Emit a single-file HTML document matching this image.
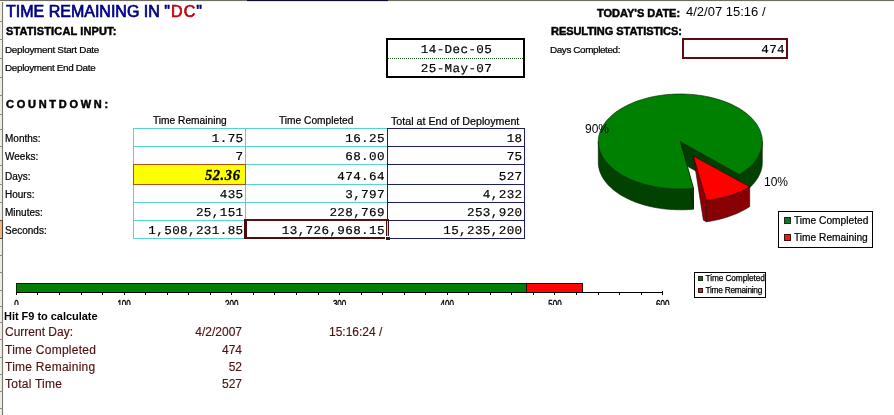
<!DOCTYPE html>
<html><head><meta charset="utf-8"><title>Time Remaining</title>
<style>
html,body{margin:0;padding:0;background:#fff;}
body{width:894px;height:415px;position:relative;overflow:hidden;font-family:"Liberation Sans",sans-serif;color:#000;}
.t{position:absolute;white-space:nowrap;line-height:1;margin:0;padding:0;}
.m{font-family:"Liberation Mono",monospace;font-size:12px;letter-spacing:0.35px;text-align:right;text-rendering:geometricPrecision;-webkit-text-stroke:0.18px #000;transform:scaleX(1.05);transform-origin:100% 50%;}
.sm{-webkit-text-stroke:0.22px #000;}
.blk{font-weight:bold;font-size:10.2px;-webkit-text-stroke:0.45px #000;}
.b{position:absolute;box-sizing:border-box;}
.mar{color:#4e1010;font-size:12px;-webkit-text-stroke:0.15px #4e1010;}
.ax{font-size:8px;color:#000;}
</style></head><body>
<div id="page" style="position:absolute;left:0;top:0;width:894px;height:415px;will-change:transform;">
<div class="b" style="left:0px;top:0px;width:2px;height:415px;background:#eeebe3;"></div>
<div class="b" style="left:2px;top:0px;width:1px;height:415px;background:#77756f;"></div>
<div class="b" style="left:3px;top:0px;width:1px;height:415px;background:#f8f8f5;"></div>
<div class="b" style="left:0px;top:221px;width:2px;height:17px;background:#f4b47e;"></div>
<div class="b" style="left:2px;top:220px;width:1px;height:19px;background:#44423e;"></div>
<div class="b" style="left:0px;top:21px;width:3px;height:1px;background:#8a8a84;"></div>
<div class="b" style="left:0px;top:39px;width:3px;height:1px;background:#8a8a84;"></div>
<div class="b" style="left:0px;top:58px;width:3px;height:1px;background:#8a8a84;"></div>
<div class="b" style="left:0px;top:77px;width:3px;height:1px;background:#8a8a84;"></div>
<div class="b" style="left:0px;top:95px;width:3px;height:1px;background:#8a8a84;"></div>
<div class="b" style="left:0px;top:114px;width:3px;height:1px;background:#8a8a84;"></div>
<div class="b" style="left:0px;top:129px;width:3px;height:1px;background:#8a8a84;"></div>
<div class="b" style="left:0px;top:146px;width:3px;height:1px;background:#8a8a84;"></div>
<div class="b" style="left:0px;top:165px;width:3px;height:1px;background:#8a8a84;"></div>
<div class="b" style="left:0px;top:184px;width:3px;height:1px;background:#8a8a84;"></div>
<div class="b" style="left:0px;top:202px;width:3px;height:1px;background:#8a8a84;"></div>
<div class="b" style="left:0px;top:220px;width:3px;height:1px;background:#4a4844;"></div>
<div class="b" style="left:0px;top:238px;width:3px;height:1px;background:#4a4844;"></div>
<div class="b" style="left:0px;top:255px;width:3px;height:1px;background:#8a8a84;"></div>
<div class="b" style="left:0px;top:272px;width:3px;height:1px;background:#8a8a84;"></div>
<div class="b" style="left:0px;top:290px;width:3px;height:1px;background:#8a8a84;"></div>
<div class="b" style="left:0px;top:306px;width:3px;height:1px;background:#8a8a84;"></div>
<div class="b" style="left:0px;top:322px;width:3px;height:1px;background:#8a8a84;"></div>
<div class="b" style="left:0px;top:339px;width:3px;height:1px;background:#8a8a84;"></div>
<div class="b" style="left:0px;top:357px;width:3px;height:1px;background:#8a8a84;"></div>
<div class="b" style="left:0px;top:374px;width:3px;height:1px;background:#8a8a84;"></div>
<div class="b" style="left:0px;top:391px;width:3px;height:1px;background:#8a8a84;"></div>
<div class="b" style="left:0px;top:408px;width:3px;height:1px;background:#8a8a84;"></div>
<div class="b" style="left:0px;top:0px;width:894px;height:1px;background:#6e6e64;"></div>
<div class="b" style="left:0px;top:1px;width:894px;height:1px;background:#f4f4f0;"></div>
<div class="b" style="left:247px;top:0px;width:141px;height:1px;background:#0a0a34;"></div>
<div class="b" style="left:247px;top:1px;width:141px;height:1px;background:#e0e0ee;"></div>
<div class="t " id="title" style="left:6px;top:3.6px;font-size:16px;-webkit-text-stroke:0.7px currentColor;color:#000086;">TIME REMAINING IN <span style="letter-spacing:1.1px">"<span style="color:#c00010">DC</span>"</span></div>
<div class="t blk" id="si" style="left:6px;top:27.3px;letter-spacing:0.12px;transform:scaleX(1.08);transform-origin:0 0;">STATISTICAL INPUT:</div>
<div class="t sm" id="dsd" style="left:5px;top:44.8px;font-size:9.9px;letter-spacing:-0.28px;">Deployment Start Date</div>
<div class="t sm" id="ded" style="left:5px;top:63.3px;font-size:9.9px;letter-spacing:-0.33px;">Deployment End Date</div>
<div class="t blk" id="cd" style="left:6px;top:100.3px;letter-spacing:-0.15px;transform:scaleX(1.08);transform-origin:0 0;">C O U N T D O W N :</div>
<div class="b" style="left:386px;top:38px;width:139px;height:40px;border:2px solid #000;"></div>
<div class="b" style="left:388px;top:58px;width:135px;height:0px;border-top:1px dotted #1e5a1e;"></div>
<div class="t m" id="d1" style="left:388.5px;top:43.7px;width:135px;text-align:center;transform-origin:50% 50%;">14-Dec-05</div>
<div class="t m" id="d2" style="left:388.5px;top:62.7px;width:135px;text-align:center;transform-origin:50% 50%;">25-May-07</div>
<div class="t blk" id="td" style="left:597px;top:9.3px;letter-spacing:0px;transform:scaleX(1.08);transform-origin:0 0;">TODAY'S DATE:</div>
<div class="t " id="tdv" style="left:686px;top:5.4px;font-size:13px;">4/2/07 15:16 /</div>
<div class="t blk" id="rs" style="left:551px;top:27.3px;letter-spacing:-0.05px;transform:scaleX(1.08);transform-origin:0 0;">RESULTING STATISTICS:</div>
<div class="t sm" id="dc" style="left:550px;top:44.8px;font-size:9.9px;letter-spacing:-0.38px;">Days Completed:</div>
<div class="b" style="left:682px;top:38px;width:106px;height:21px;border:2px solid #600a0e;"></div>
<div class="t m" id="v474" style="left:684px;top:43.8px;width:101px;">474</div>
<div class="t sm" id="rl0" style="left:5px;top:133.8px;font-size:10px;">Months:</div>
<div class="t sm" id="rl1" style="left:5px;top:151.8px;font-size:10px;">Weeks:</div>
<div class="t sm" id="rl2" style="left:5px;top:171.8px;font-size:10px;">Days:</div>
<div class="t sm" id="rl3" style="left:5px;top:189.8px;font-size:10px;">Hours:</div>
<div class="t sm" id="rl4" style="left:5px;top:207.8px;font-size:10px;">Minutes:</div>
<div class="t sm" id="rl5" style="left:5px;top:225.8px;font-size:10px;">Seconds:</div>
<div class="t sm" id="h1" style="left:153px;top:116.1px;font-size:10.2px;">Time Remaining</div>
<div class="t sm" id="h2" style="left:279px;top:116.2px;font-size:10.2px;">Time Completed</div>
<div class="t sm" id="h3" style="left:391px;top:115.8px;font-size:10.7px;">Total at End of Deployment</div>
<div class="b" style="left:133px;top:128px;width:254px;height:1px;background:#58d0d6;"></div>
<div class="b" style="left:133px;top:146px;width:254px;height:1px;background:#58d0d6;"></div>
<div class="b" style="left:133px;top:164px;width:254px;height:1px;background:#58d0d6;"></div>
<div class="b" style="left:133px;top:184px;width:254px;height:1px;background:#58d0d6;"></div>
<div class="b" style="left:133px;top:202px;width:254px;height:1px;background:#58d0d6;"></div>
<div class="b" style="left:133px;top:220px;width:254px;height:1px;background:#58d0d6;"></div>
<div class="b" style="left:133px;top:238px;width:254px;height:1px;background:#58d0d6;"></div>
<div class="b" style="left:133px;top:128px;width:1px;height:111px;background:#58d0d6;"></div>
<div class="b" style="left:245px;top:128px;width:1px;height:111px;background:#58d0d6;"></div>
<div class="b" style="left:387px;top:128px;width:138px;height:1px;background:#1c1c68;"></div>
<div class="b" style="left:387px;top:146px;width:138px;height:1px;background:#1c1c68;"></div>
<div class="b" style="left:387px;top:164px;width:138px;height:1px;background:#1c1c68;"></div>
<div class="b" style="left:387px;top:184px;width:138px;height:1px;background:#1c1c68;"></div>
<div class="b" style="left:387px;top:202px;width:138px;height:1px;background:#1c1c68;"></div>
<div class="b" style="left:387px;top:220px;width:138px;height:1px;background:#1c1c68;"></div>
<div class="b" style="left:387px;top:238px;width:138px;height:1px;background:#1c1c68;"></div>
<div class="b" style="left:387px;top:128px;width:1px;height:111px;background:#1c1c68;"></div>
<div class="b" style="left:524px;top:128px;width:1px;height:111px;background:#1c1c68;"></div>
<div class="b" style="left:133px;top:164px;width:113px;height:21px;background:#feff00;border:1px solid #b4500a;"></div>
<div class="b" style="left:244px;top:219px;width:145px;height:20px;border:3px solid #4a0c0c;border-top:2px solid #5c1010;border-bottom-width:2px;"></div>
<div class="b" style="left:387px;top:221px;width:1px;height:16px;background:#d8d070;"></div>
<div class="b" style="left:385px;top:236px;width:5px;height:4px;background:#22220c;border-left:1px solid #fff;border-top:1px solid #fff;"></div>
<div class="t m" id="a0" style="left:133px;top:133.3px;width:110.5px;">1.75</div>
<div class="t m" id="b0" style="left:245px;top:133.3px;width:139.9px;">16.25</div>
<div class="t m" id="c0" style="left:387px;top:133.3px;width:135.5px;">18</div>
<div class="t m" id="a1" style="left:133px;top:151.3px;width:110.5px;">7</div>
<div class="t m" id="b1" style="left:245px;top:151.3px;width:139.9px;">68.00</div>
<div class="t m" id="c1" style="left:387px;top:151.3px;width:135.5px;">75</div>
<div class="t m" id="b2" style="left:245px;top:171.3px;width:139.9px;">474.64</div>
<div class="t m" id="c2" style="left:387px;top:171.3px;width:135.5px;">527</div>
<div class="t m" id="a3" style="left:133px;top:189.3px;width:110.5px;">435</div>
<div class="t m" id="b3" style="left:245px;top:189.3px;width:139.9px;">3,797</div>
<div class="t m" id="c3" style="left:387px;top:189.3px;width:135.5px;">4,232</div>
<div class="t m" id="a4" style="left:133px;top:207.3px;width:110.5px;">25,151</div>
<div class="t m" id="b4" style="left:245px;top:207.3px;width:139.9px;">228,769</div>
<div class="t m" id="c4" style="left:387px;top:207.3px;width:135.5px;">253,920</div>
<div class="t m" id="a5" style="left:133px;top:225.3px;width:110.5px;">1,508,231.85</div>
<div class="t m" id="b5" style="left:245px;top:225.3px;width:139.9px;">13,726,968.15</div>
<div class="t m" id="c5" style="left:387px;top:225.3px;width:135.5px;">15,235,200</div>
<div class="t " id="y52" style="left:132.5px;top:167px;width:108px;text-align:right;font:italic bold 14.5px 'Liberation Serif',serif;letter-spacing:0.6px;-webkit-text-stroke:0.3px #000;">52.36</div>
<svg style="position:absolute;left:560px;top:80px;" width="334" height="180" viewBox="560 80 334 180">
<polygon points="693.5,188.4 690.0,188.7 686.4,188.9 682.9,189.0 679.3,189.0 675.8,188.9 672.2,188.8 668.7,188.5 665.2,188.2 661.7,187.8 658.3,187.3 654.9,186.7 651.5,186.0 648.2,185.2 645.0,184.4 641.8,183.4 638.7,182.4 635.7,181.4 632.8,180.2 629.9,179.0 627.2,177.7 624.5,176.3 622.0,174.9 619.5,173.4 617.2,171.8 615.0,170.2 612.9,168.6 611.0,166.8 609.1,165.1 607.4,163.3 605.9,161.4 604.4,159.5 603.2,157.6 602.0,155.7 601.1,153.7 600.2,151.7 599.5,149.7 599.0,147.7 598.6,145.6 598.4,143.6 598.3,141.5 598.3,162.3 598.4,164.4 598.6,166.4 599.0,168.5 599.5,170.5 600.2,172.5 601.1,174.5 602.0,176.5 603.2,178.4 604.4,180.3 605.9,182.2 607.4,184.1 609.1,185.9 611.0,187.6 612.9,189.4 615.0,191.0 617.2,192.6 619.5,194.2 622.0,195.7 624.5,197.1 627.2,198.5 629.9,199.8 632.8,201.0 635.7,202.2 638.7,203.2 641.8,204.2 645.0,205.2 648.2,206.0 651.5,206.8 654.9,207.5 658.3,208.1 661.7,208.6 665.2,209.0 668.7,209.3 672.2,209.6 675.8,209.7 679.3,209.8 682.9,209.8 686.4,209.7 690.0,209.5 693.5,209.2" fill="#014201" stroke="#021c02" stroke-width="0.6"/>
<polygon points="762.3,141.5 762.3,142.4 762.2,143.3 762.2,144.2 762.1,145.2 761.9,146.1 761.8,147.0 761.6,147.9 761.3,148.8 761.1,149.7 760.8,150.6 760.5,151.5 760.1,152.4 759.7,153.3 759.3,154.1 758.9,155.0 758.4,155.9 758.0,156.8 757.4,157.6 756.9,158.5 756.3,159.3 755.7,160.2 755.1,161.0 754.4,161.8 753.7,162.7 753.0,163.5 752.3,164.3 751.5,165.1 750.7,165.9 749.9,166.6 749.0,167.4 748.1,168.2 747.2,168.9 746.3,169.7 745.4,170.4 744.4,171.1 743.4,171.8 742.4,172.5 741.3,173.2 740.3,173.9 739.2,174.5 739.2,195.3 740.3,194.7 741.3,194.0 742.4,193.3 743.4,192.6 744.4,191.9 745.4,191.2 746.3,190.5 747.2,189.7 748.1,189.0 749.0,188.2 749.9,187.4 750.7,186.7 751.5,185.9 752.3,185.1 753.0,184.3 753.7,183.5 754.4,182.6 755.1,181.8 755.7,181.0 756.3,180.1 756.9,179.3 757.4,178.4 758.0,177.6 758.4,176.7 758.9,175.8 759.3,174.9 759.7,174.1 760.1,173.2 760.5,172.3 760.8,171.4 761.1,170.5 761.3,169.6 761.6,168.7 761.8,167.8 761.9,166.9 762.1,166.0 762.2,165.0 762.2,164.1 762.3,163.2 762.3,162.3" fill="#014201" stroke="#021c02" stroke-width="0.6"/>
<polygon points="680.3,141.5 739.2,174.5 739.2,195.3 680.3,162.3" fill="#013c01" stroke="#021c02" stroke-width="0.6"/>
<polygon points="680.3,141.5 693.5,188.4 693.5,209.2 683.3,147.5" fill="#013c01" stroke="#021c02" stroke-width="0.6"/>
<polygon points="680.3,141.5 693.5,188.4 689.6,188.7 685.8,188.9 682.0,189.0 678.1,189.0 674.2,188.9 670.4,188.7 666.6,188.3 662.8,187.9 659.1,187.4 655.4,186.8 651.7,186.0 648.1,185.2 644.6,184.3 641.2,183.3 637.9,182.1 634.6,180.9 631.5,179.7 628.4,178.3 625.5,176.8 622.7,175.3 620.0,173.7 617.5,172.0 615.0,170.3 612.8,168.5 610.7,166.6 608.7,164.7 606.9,162.7 605.3,160.7 603.8,158.6 602.5,156.5 601.4,154.4 600.4,152.2 599.6,150.0 599.0,147.8 598.6,145.6 598.4,143.4 598.3,141.1 598.4,138.9 598.7,136.7 599.2,134.4 599.9,132.2 600.7,130.1 601.7,127.9 602.9,125.8 604.3,123.7 605.8,121.6 607.5,119.6 609.4,117.7 611.4,115.8 613.5,113.9 615.8,112.1 618.3,110.4 620.9,108.8 623.6,107.2 626.5,105.7 629.4,104.3 632.5,102.9 635.7,101.6 639.0,100.5 642.3,99.4 645.8,98.4 649.3,97.5 652.9,96.7 656.6,96.0 660.3,95.4 664.1,94.9 667.9,94.5 671.7,94.3 675.5,94.1 679.4,94.0 683.3,94.0 687.1,94.2 690.9,94.4 694.7,94.7 698.5,95.2 702.3,95.7 706.0,96.4 709.6,97.1 713.2,98.0 716.6,98.9 720.1,100.0 723.4,101.1 726.6,102.3 729.8,103.6 732.8,105.0 735.7,106.5 738.5,108.0 741.1,109.6 743.6,111.3 746.0,113.1 748.2,114.9 750.3,116.8 752.3,118.7 754.0,120.7 755.6,122.7 757.1,124.8 758.3,126.9 759.4,129.1 760.4,131.2 761.1,133.4 761.7,135.6 762.1,137.8 762.3,140.1 762.3,142.3 762.1,144.5 761.8,146.8 761.3,149.0 760.6,151.2 759.7,153.4 758.7,155.5 757.4,157.6 756.0,159.7 754.5,161.7 752.8,163.7 750.9,165.7 748.8,167.6 746.6,169.4 744.3,171.2 741.8,172.9 739.2,174.5" fill="#008000" stroke="#021c02" stroke-width="0.6"/>
<polygon points="693.3,156.0 706.4,200.2 706.4,221.7 703.4,220.2" fill="#900005" stroke="#2a0202" stroke-width="0.6"/>
<polygon points="749.7,186.8 747.9,187.8 746.1,188.8 744.3,189.8 742.4,190.7 740.4,191.6 738.4,192.5 736.3,193.3 734.2,194.1 732.1,194.9 729.9,195.6 727.7,196.2 725.5,196.8 723.2,197.4 720.8,198.0 718.5,198.4 716.1,198.9 713.7,199.3 711.3,199.7 708.9,200.0 706.4,200.2 706.4,221.7 708.9,221.4 711.3,221.0 713.7,220.5 716.1,220.0 718.5,219.5 720.8,218.9 723.2,218.3 725.5,217.6 727.7,216.9 729.9,216.1 732.1,215.3 734.2,214.5 736.3,213.7 738.4,212.8 740.4,211.8 742.4,210.8 744.3,209.8 746.1,208.8 747.9,207.7 749.7,206.6" fill="#880003" stroke="#2a0202" stroke-width="0.6"/>
<polygon points="693.3,156.0 749.7,186.8 747.9,187.8 746.1,188.8 744.3,189.8 742.4,190.7 740.4,191.6 738.4,192.5 736.3,193.3 734.2,194.1 732.1,194.9 729.9,195.6 727.7,196.2 725.5,196.8 723.2,197.4 720.8,198.0 718.5,198.4 716.1,198.9 713.7,199.3 711.3,199.7 708.9,200.0 706.4,200.2" fill="#fe0000" stroke="#2a0202" stroke-width="0.6"/>
</svg>
<div class="t " id="p90" style="left:585px;top:123px;font-size:12px;">90%</div>
<div class="t " id="p10" style="left:764px;top:176px;font-size:12px;">10%</div>
<div class="b" style="left:778px;top:211px;width:95px;height:37px;background:#fff;border:1px solid #000;"></div>
<div class="b" style="left:784px;top:217px;width:7px;height:7px;background:#0a7a2a;border:1px solid #1a2a1a;"></div>
<div class="b" style="left:784px;top:234px;width:7px;height:7px;background:#f01818;border:1px solid #3a1010;"></div>
<div class="t sm" id="l1" style="left:794px;top:215.6px;font-size:10.2px;">Time Completed</div>
<div class="t sm" id="l2" style="left:794px;top:232.6px;font-size:10.2px;">Time Remaining</div>
<div class="b" style="left:16px;top:283px;width:511px;height:10px;background:#038003;border:1px solid #042404;"></div>
<div class="b" style="left:526px;top:283px;width:57px;height:10px;background:#fe0404;border:1px solid #300404;"></div>
<div class="b" style="left:16px;top:292px;width:647px;height:1px;background:#000;"></div>
<div class="b" style="left:16px;top:293px;width:1px;height:2px;background:#000;"></div>
<div class="b" style="left:37px;top:293px;width:1px;height:2px;background:#000;"></div>
<div class="b" style="left:59px;top:293px;width:1px;height:2px;background:#000;"></div>
<div class="b" style="left:81px;top:293px;width:1px;height:2px;background:#000;"></div>
<div class="b" style="left:102px;top:293px;width:1px;height:2px;background:#000;"></div>
<div class="b" style="left:124px;top:293px;width:1px;height:2px;background:#000;"></div>
<div class="b" style="left:145px;top:293px;width:1px;height:2px;background:#000;"></div>
<div class="b" style="left:167px;top:293px;width:1px;height:2px;background:#000;"></div>
<div class="b" style="left:188px;top:293px;width:1px;height:2px;background:#000;"></div>
<div class="b" style="left:210px;top:293px;width:1px;height:2px;background:#000;"></div>
<div class="b" style="left:231px;top:293px;width:1px;height:2px;background:#000;"></div>
<div class="b" style="left:253px;top:293px;width:1px;height:2px;background:#000;"></div>
<div class="b" style="left:274px;top:293px;width:1px;height:2px;background:#000;"></div>
<div class="b" style="left:296px;top:293px;width:1px;height:2px;background:#000;"></div>
<div class="b" style="left:318px;top:293px;width:1px;height:2px;background:#000;"></div>
<div class="b" style="left:339px;top:293px;width:1px;height:2px;background:#000;"></div>
<div class="b" style="left:361px;top:293px;width:1px;height:2px;background:#000;"></div>
<div class="b" style="left:382px;top:293px;width:1px;height:2px;background:#000;"></div>
<div class="b" style="left:404px;top:293px;width:1px;height:2px;background:#000;"></div>
<div class="b" style="left:425px;top:293px;width:1px;height:2px;background:#000;"></div>
<div class="b" style="left:447px;top:293px;width:1px;height:2px;background:#000;"></div>
<div class="b" style="left:468px;top:293px;width:1px;height:2px;background:#000;"></div>
<div class="b" style="left:490px;top:293px;width:1px;height:2px;background:#000;"></div>
<div class="b" style="left:511px;top:293px;width:1px;height:2px;background:#000;"></div>
<div class="b" style="left:533px;top:293px;width:1px;height:2px;background:#000;"></div>
<div class="b" style="left:554px;top:293px;width:1px;height:2px;background:#000;"></div>
<div class="b" style="left:576px;top:293px;width:1px;height:2px;background:#000;"></div>
<div class="b" style="left:598px;top:293px;width:1px;height:2px;background:#000;"></div>
<div class="b" style="left:619px;top:293px;width:1px;height:2px;background:#000;"></div>
<div class="b" style="left:641px;top:293px;width:1px;height:2px;background:#000;"></div>
<div class="b" style="left:662px;top:293px;width:1px;height:2px;background:#000;"></div>
<div class="b" style="left:662px;top:291px;width:1px;height:4px;background:#000;"></div>
<div class="b" style="left:0;top:298px;width:700px;height:7px;overflow:hidden;"><div class="t ax" style="left:1.4px;width:30px;text-align:center;top:1.7px;transform:scaleY(1.35);transform-origin:0 0;-webkit-text-stroke:0.3px #000;">0</div><div class="t ax" style="left:109.1px;width:30px;text-align:center;top:1.7px;transform:scaleY(1.35);transform-origin:0 0;-webkit-text-stroke:0.3px #000;">100</div><div class="t ax" style="left:216.8px;width:30px;text-align:center;top:1.7px;transform:scaleY(1.35);transform-origin:0 0;-webkit-text-stroke:0.3px #000;">200</div><div class="t ax" style="left:324.6px;width:30px;text-align:center;top:1.7px;transform:scaleY(1.35);transform-origin:0 0;-webkit-text-stroke:0.3px #000;">300</div><div class="t ax" style="left:432.3px;width:30px;text-align:center;top:1.7px;transform:scaleY(1.35);transform-origin:0 0;-webkit-text-stroke:0.3px #000;">400</div><div class="t ax" style="left:540.0px;width:30px;text-align:center;top:1.7px;transform:scaleY(1.35);transform-origin:0 0;-webkit-text-stroke:0.3px #000;">500</div><div class="t ax" style="left:647.7px;width:30px;text-align:center;top:1.7px;transform:scaleY(1.35);transform-origin:0 0;-webkit-text-stroke:0.3px #000;">600</div></div>
<div class="b" style="left:694px;top:272px;width:72px;height:26px;background:#fff;border:1px solid #000;"></div>
<div class="b" style="left:698px;top:276px;width:5px;height:5px;background:#2f5a36;border:1px solid #1a2a1a;"></div>
<div class="b" style="left:698px;top:288px;width:5px;height:5px;background:#a83040;border:1px solid #3a1010;"></div>
<div class="t " id="g1" style="left:705.5px;top:274px;font-size:8.3px;letter-spacing:-0.1px;-webkit-text-stroke:0.25px #000;">Time Completed</div>
<div class="t " id="g2" style="left:705.5px;top:285.5px;font-size:8.3px;letter-spacing:-0.25px;-webkit-text-stroke:0.25px #000;">Time Remaining</div>
<div class="t " id="hit" style="left:4px;top:310.5px;font-size:11px;font-weight:bold;letter-spacing:-0.03px;">Hit F9 to calculate</div>
<div class="t mar" id="bl0" style="left:5px;top:326.2px;letter-spacing:0px;">Current Day:</div>
<div class="t mar" id="bv0" style="left:142px;top:326.2px;width:100px;text-align:right;">4/2/2007</div>
<div class="t mar" id="bl1" style="left:5px;top:343.5px;letter-spacing:0.25px;">Time Completed</div>
<div class="t mar" id="bv1" style="left:142px;top:343.5px;width:100px;text-align:right;">474</div>
<div class="t mar" id="bl2" style="left:5px;top:360.6px;letter-spacing:0.25px;">Time Remaining</div>
<div class="t mar" id="bv2" style="left:142px;top:360.6px;width:100px;text-align:right;">52</div>
<div class="t mar" id="bl3" style="left:5px;top:377.5px;letter-spacing:0.25px;">Total Time</div>
<div class="t mar" id="bv3" style="left:142px;top:377.5px;width:100px;text-align:right;">527</div>
<div class="t mar" id="bt" style="left:329px;top:326.2px;">15:16:24 /</div>
</div>
</body></html>
